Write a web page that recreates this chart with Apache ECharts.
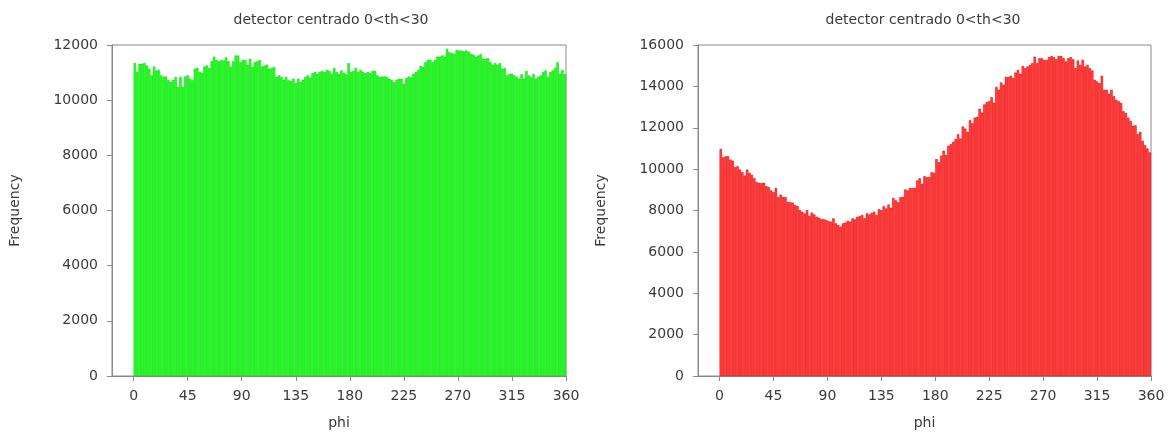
<!DOCTYPE html>
<html>
<head>
<meta charset="utf-8">
<script src="https://cdn.jsdelivr.net/npm/echarts@6/dist/echarts.min.js"></script>
<style>
  html, body { margin: 0; padding: 0; background: #fff; }
  #chart { width: 1171px; height: 435px; }
</style>
</head>
<body>
<div id="chart"></div>
<script>
// Histogram bins of phi (degrees), 2-degree wide, 0..360
const binWidth = 2;
const phiTicks = [0, 45, 90, 135, 180, 225, 270, 315, 360];
const titleText = 'detector centrado 0<th<30';

// Counts per bin, left panel (green)
const greenCounts = [
  11350, 11020, 11320, 11320, 11350, 11260, 11140, 10900, 11220, 11080,
  11100, 10900, 10840, 10860, 10720, 10660, 10740, 10840, 10480, 10840,
  10480, 10860, 10900, 10780, 10720, 11140, 11170, 11020, 11000, 11220,
  11260, 11170, 11410, 11580, 11460, 11410, 11460, 11440, 11560, 11410,
  11200, 11410, 11620, 11620, 11380, 11460, 11460, 11290, 11500, 11200,
  11380, 11410, 11460, 11220, 11260, 11290, 11140, 11170, 11200, 10840,
  10900, 10840, 10740, 10840, 10720, 10700, 10780, 10620, 10780, 10660,
  10740, 10840, 10900, 10820, 10980, 11020, 10960, 11020, 11060, 11020,
  11100, 11060, 10960, 11170, 11020, 10950, 11080, 11000,
  10940, 11340, 11020, 11060, 11170, 11020, 11100, 11020, 10980, 11020,
  10980, 11060, 11060, 10900, 10840, 10860, 10860, 10840, 10780, 10720,
  10660, 10740, 10780, 10780, 10600, 10800, 10860, 10820, 10960, 11020,
  11100, 11240, 11200, 11380, 11460, 11470, 11380, 11460, 11580, 11580,
  11620, 11580, 11860, 11740, 11710, 11680, 11820, 11800, 11800, 11770,
  11800, 11760, 11680, 11650, 11580, 11620, 11680, 11500, 11500, 11530,
  11380, 11290, 11340, 11290, 11340, 11140, 11170, 10900, 10960, 10960,
  10900, 10840, 10780, 10940, 10780, 11060, 10900, 10840, 10940, 10780,
  10850, 10900, 11020, 11080, 10840, 11020, 11080, 11170, 11380, 10960, 11100, 10940
];

// Counts per bin, right panel (red)
const redCounts = [
  10970, 10570, 10620, 10620, 10460, 10410, 10090, 10140, 9980, 9850,
  9690, 9980, 9820, 9720, 9560, 9370, 9340, 9330, 9340, 9180,
  9130, 8970, 8890, 9090, 8650, 8770, 8650, 8650, 8410, 8410,
  8380, 8260, 8220, 8020, 7940, 7860, 8020, 7740, 7900, 7810,
  7700, 7650, 7580, 7580, 7540, 7490,
  7460, 7620, 7380, 7300, 7220, 7380, 7420, 7500, 7460, 7620,
  7570, 7700, 7730, 7780, 7620, 7860, 7810, 7890, 7940, 7780,
  8060, 8020, 8210, 8100, 8290, 8130, 8610, 8490, 8410, 8650,
  8650, 9020, 8970, 9090, 9090, 9090, 9450, 9560, 9290, 9660,
  9610, 9610, 9850, 9820,
  10490, 10330, 10650, 10890, 10680, 11130, 11210, 11320, 11450, 11690,
  11480, 12060, 11960, 11800, 12370, 12220, 12490, 12530, 12920, 12730,
  13130, 13240, 13280, 13480, 13210, 13970, 13840, 14190, 14080, 14450,
  14450, 14510, 14400, 14670, 14800, 14610, 14990, 14880, 14960, 15040,
  15120, 15440, 15120, 15360, 15360, 15280, 15280,
  15410, 15470, 15410, 15310, 15470, 15470, 15360, 15200, 15360, 15410,
  15310, 14880, 15250, 15040, 15280, 14960, 15040, 14880, 14770, 14320,
  14240, 14160, 14510, 13840, 13840, 13650, 13840, 13520, 13360, 13280,
  13200, 12800, 12720, 12490, 12330, 12090, 12120, 11690, 11800, 11370,
  11160, 11000, 10810
];

const toBins = counts => counts.map((v, i) => [i * binWidth + binWidth / 2, v]);

const FONT = 'DejaVu Sans';
const FS = 14;
const TEXT = '#3a3a3a';
const FRAME = '#8a8a8a';

function xAxisFor(gridIndex) {
  return {
    type: 'value', gridIndex, min: -18, max: 360,
    name: 'phi', nameLocation: 'middle', nameGap: 40,
    nameTextStyle: { fontFamily: FONT, fontSize: FS, color: TEXT },
    axisLine: { show: true, onZero: false, lineStyle: { color: FRAME } },
    axisTick: { show: true, customValues: phiTicks, length: 5, lineStyle: { color: FRAME } },
    axisLabel: { customValues: phiTicks, fontFamily: FONT, fontSize: FS, color: TEXT, margin: 13 },
    splitLine: { show: false }
  };
}
function yAxisFor(gridIndex, max) {
  return {
    type: 'value', gridIndex, min: 0, max, interval: 2000,
    name: 'Frequency', nameLocation: 'middle', nameGap: 90, nameRotate: 90,
    nameTextStyle: { fontFamily: FONT, fontSize: FS, color: TEXT },
    axisLine: { show: true, onZero: false, lineStyle: { color: FRAME } },
    axisTick: { show: true, length: 5, lineStyle: { color: FRAME } },
    axisLabel: { fontFamily: FONT, fontSize: FS, color: TEXT, margin: 14, formatter: v => String(v) },
    splitLine: { show: false }
  };
}

const chart = echarts.init(document.getElementById('chart'), null, { renderer: 'canvas' });
chart.setOption({
  animation: false,
  backgroundColor: '#fff',
  title: [
    { text: titleText, left: 326, top: 8, textAlign: 'center',
      textStyle: { fontFamily: FONT, fontSize: FS, fontWeight: 'normal', color: TEXT } },
    { text: titleText, left: 918, top: 8, textAlign: 'center',
      textStyle: { fontFamily: FONT, fontSize: FS, fontWeight: 'normal', color: TEXT } }
  ],
  grid: [
    { left: 112, top: 45, width: 454, height: 334, show: true, borderColor: FRAME, borderWidth: 1, backgroundColor: 'transparent' },
    { left: 698, top: 45, width: 453, height: 334, show: true, borderColor: FRAME, borderWidth: 1, backgroundColor: 'transparent' }
  ],
  xAxis: [xAxisFor(0), xAxisFor(1)],
  yAxis: [yAxisFor(0, 12000), yAxisFor(1, 16000)],
  series: [
    { type: 'bar', xAxisIndex: 0, yAxisIndex: 0, data: toBins(greenCounts), barWidth: '100%',
      itemStyle: { color: 'rgba(20,255,20,0.9)', borderColor: '#00dd00', borderWidth: 0.6 } },
    { type: 'bar', xAxisIndex: 1, yAxisIndex: 1, data: toBins(redCounts), barWidth: '100%',
      itemStyle: { color: 'rgba(255,40,40,0.85)', borderColor: '#ee0000', borderWidth: 0.6 } }
  ]
});
</script>
</body>
</html>
